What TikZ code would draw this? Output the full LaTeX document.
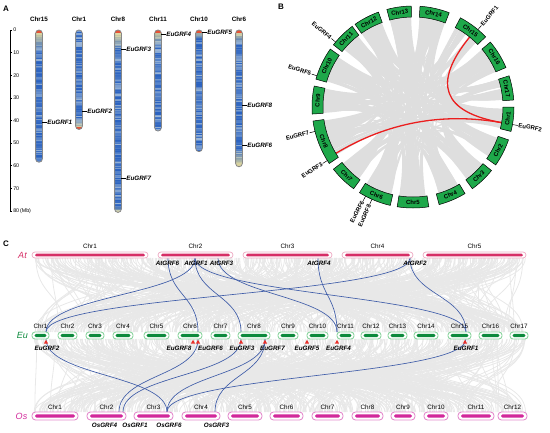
\documentclass[tikz,border=0pt]{standalone}
\usepackage{fontspec}
\setmainfont{Liberation Sans}

\definecolor{myblue}{RGB}{42,98,192}
\definecolor{mylight}{RGB}{185,205,222}
\definecolor{mypale}{RGB}{242,226,150}
\definecolor{capred}{RGB}{232,82,52}
\definecolor{chromgray}{RGB}{135,135,135}
\definecolor{ribbongray}{RGB}{222,222,222}
\definecolor{circgreen}{RGB}{30,168,74}
\definecolor{linkred}{RGB}{235,30,30}
\definecolor{synbggray}{RGB}{232,232,232}
\definecolor{linkblue}{RGB}{62,92,168}
\definecolor{atred}{RGB}{214,46,102}
\definecolor{atpink}{RGB}{238,170,195}
\definecolor{eugreen}{RGB}{12,138,60}
\definecolor{eulight}{RGB}{140,212,160}
\definecolor{osmag}{RGB}{210,40,155}
\definecolor{oslight}{RGB}{228,140,205}
\definecolor{markred}{RGB}{232,48,42}

\tikzset{
  paneltag/.style={font=\fontsize{8}{9}\selectfont\bfseries, inner sep=0pt},
  chrname/.style={font=\fontsize{6.3}{7}\selectfont\bfseries, inner sep=0pt},
  genename/.style={font=\fontsize{6.3}{7}\selectfont\bfseries\itshape, inner sep=0.6pt},
  ticklab/.style={font=\fontsize{5.3}{6}\selectfont, anchor=west, inner sep=0.6pt},
  chromout/.style={draw=chromgray, line width=0.8pt, rounded corners=3.3pt},
  ribbon/.style={fill=ribbongray},
  circchr/.style={fill=circgreen, draw=black, line width=0.5pt},
  circname/.style={font=\fontsize{6}{7}\selectfont\bfseries, inner sep=0pt},
  circgene/.style={font=\fontsize{6}{7}\selectfont\bfseries, inner sep=0.5pt},
  redlink/.style={draw=linkred, line width=1.3pt},
  synbg/.style={draw=synbggray, line width=0.8pt},
  bluelink/.style={draw=linkblue, line width=0.65pt},
  rowname/.style={font=\fontsize{9}{10}\selectfont\itshape, inner sep=0pt},
  cname/.style={font=\fontsize{6.3}{7}\selectfont, inner sep=0pt},
  atout/.style={draw=atpink, fill=white, line width=0.7pt, rounded corners=3pt},
  atin/.style={fill=atred, rounded corners=1.4pt},
  euout/.style={draw=eulight, fill=white, line width=0.9pt, rounded corners=3pt},
  euin/.style={fill=eugreen, rounded corners=1.4pt},
  osout/.style={draw=oslight, fill=white, line width=0.9pt, rounded corners=3.5pt},
  osin/.style={fill=osmag, rounded corners=1.6pt},
}

% chromosome of panel A: x, length (Mb), top fade, bottom fade, top cap, bottom cap
\newcommand{\chromA}[6]{%
  \begin{scope}
    \clip[rounded corners=3.3pt] (#1-3.4,30) rectangle (#1+3.4,30+#2*2.26);
    \foreach \p in {0,0.5,...,#2}{
      \pgfmathsetmacro\v{100-80*rnd^1.6}
      \pgfmathsetmacro\f{100*min(1,(\p+0.3)/max(#3,0.01))*min(1,(#2-\p+0.2)/max(#4,0.01))}
      \fill[myblue!\v!mylight!\f!mypale] (#1-3.4,30+\p*2.26) rectangle (#1+3.4,30+\p*2.26+1.4);
    }
    \ifnum#5=1 \fill[capred] (#1-3.4,30) rectangle (#1+3.4,32.6); \fi
    \ifnum#6=1 \fill[capred] (#1-3.4,30+#2*2.26-2.6) rectangle (#1+3.4,30+#2*2.26); \fi
  \end{scope}
  \draw[chromout] (#1-3.4,30) rectangle (#1+3.4,30+#2*2.26);
}

\begin{document}
\begin{tikzpicture}[x=1pt,y=-1pt]
\useasboundingbox (0,0) rectangle (550,432);
\pgfmathsetseed{11}

% ---------- A ----------
\node[paneltag] (tagA) at (6,9) {A};
\draw[line width=0.6pt] (10,30) -- (10,210.8);
\foreach \t in {0,10,...,70}{
  \draw[line width=0.6pt] (10,30+\t*2.26) -- (12.4,30+\t*2.26) node[ticklab] (tick\t) {\t};
}
\draw[line width=0.6pt] (10,210.8) -- (12.4,210.8) node[ticklab] (tick80) {80\,(Mb)};

\chromA{39}{58.5}{9}{0}{1}{0}
\chromA{79}{44}{0}{5}{0}{1}
\chromA{118}{80.7}{9}{3}{1}{0}
\chromA{158}{44.7}{7}{0}{1}{0}
\chromA{199}{53.8}{4}{0}{1}{0}
\chromA{239}{60.5}{6}{8}{1}{0}

\node[chrname] (ca15) at (39,19) {Chr15};
\node[chrname] (ca1) at (79,19) {Chr1};
\node[chrname] (ca8) at (118,19) {Chr8};
\node[chrname] (ca11) at (158,19) {Chr11};
\node[chrname] (ca10) at (199,19) {Chr10};
\node[chrname] (ca6) at (239,19) {Chr6};

\coordinate (pa1) at (42.4,122.7);
\coordinate (pa2) at (82.4,111);
\coordinate (pa3) at (121.4,49.3);
\coordinate (pa7) at (121.4,178.3);
\coordinate (pa4) at (161.4,34);
\coordinate (pa5) at (202.4,32.7);
\coordinate (pa8) at (242.4,105);
\coordinate (pa6) at (242.4,145);
\node[genename, anchor=west] (ga1) at (46.5,122.7) {EuGRF1};
\node[genename, anchor=west] (ga2) at (86.5,111) {EuGRF2};
\node[genename, anchor=west] (ga3) at (125.5,49.3) {EuGRF3};
\node[genename, anchor=west] (ga7) at (125.5,178.3) {EuGRF7};
\node[genename, anchor=west] (ga4) at (165.5,34) {EuGRF4};
\node[genename, anchor=west] (ga5) at (206.5,32.7) {EuGRF5};
\node[genename, anchor=west] (ga8) at (246.5,105) {EuGRF8};
\node[genename, anchor=west] (ga6) at (246.5,145) {EuGRF6};
\foreach \g in {1,2,3,7,4,5,8,6}{
  \draw[line width=0.6pt] (pa\g) -- (ga\g.west);
}

% ---------- B ----------
\node[paneltag] (tagB) at (281,7) {B};
\begin{scope}[shift={(413,107)}, y=1pt]
  \def\bS{{346,325,306,285,261,238,218,188,168,145,127,110,91,69,44,23,4}}
  \def\bE{{360,341,321,301,279,257,234,214,184,164,142,125,105,86,62,40,18}}
  \foreach \k in {1,...,170}{
    \pgfmathtruncatemacro\i{random(0,16)}
    \pgfmathtruncatemacro\j{mod(\i+random(2,14),17)}
    \pgfmathsetmacro\w{1.2+3*rnd}
    \pgfmathsetmacro\a{\bS[\i]+rnd*(\bE[\i]-\bS[\i]-\w)}
    \pgfmathsetmacro\b{\bS[\j]+rnd*(\bE[\j]-\bS[\j]-\w)}
    \fill[ribbon] (\a:90) arc[start angle=\a, end angle=\a+\w, radius=90]
      .. controls (\a+\w:22) and (\b:22) .. (\b:90) arc[start angle=\b, end angle=\b+\w, radius=90]
      .. controls (\b+\w:22) and (\a:22) .. cycle;
  }
  \coordinate (rb15) at (51:90);
  \coordinate (rb1) at (350:90);
  \coordinate (rb8) at (211:90);
  \draw[redlink] (rb15) .. controls (51:30) and (350:30) .. (rb1);
  \draw[redlink] (rb1) .. controls (350:30) and (211:30) .. (rb8);

  \foreach \n/\s/\e in {1/346/360,2/325/341,3/306/321,4/285/301,5/261/279,6/238/257,
      7/218/234,8/188/214,9/168/184,10/145/164,11/127/142,12/110/125,13/91/105,
      14/69/86,15/44/62,16/23/40,17/4/18}{
    \pgfmathsetmacro\m{(\s+\e)/2}
    \pgfmathsetmacro\r{\m<180 ? \m-90 : \m-270}
    \filldraw[circchr] (\s:90) arc[start angle=\s, end angle=\e, radius=90]
      -- (\e:101) arc[start angle=\e, end angle=\s, radius=101] -- cycle;
    \node[circname, rotate=\r] (cb\n) at (\m:95.5) {Chr\n};
  }

  \foreach \g/\t/\an in {1/50/west,2/350/west,7/194/east,3/212/east,5/162/east,
      4/140/east,6/242/east,8/246/east}{
    \pgfmathsetmacro\r{\t<90 ? \t : (\t>270 ? \t-360 : \t-180)}
    \coordinate (tb\g) at (\t:101);
    \node[circgene, anchor=\an, rotate=\r] (gb\g) at (\t:106.5) {EuGRF\g};
    \draw[line width=0.5pt] (tb\g) -- (gb\g.\an);
  }
\end{scope}

% ---------- C ----------
\node[paneltag] (tagC) at (6,244) {C};
\foreach \k in {1,...,520}{
  \pgfmathsetmacro\xa{34+492*rnd}
  \pgfmathsetmacro\xb{34+492*rnd}
  \draw[synbg] (\xa,258) .. controls (\xa,297) and (\xb,293) .. (\xb,332);
}
\foreach \k in {1,...,520}{
  \pgfmathsetmacro\xa{34+492*rnd}
  \pgfmathsetmacro\xb{34+492*rnd}
  \draw[synbg] (\xa,339) .. controls (\xa,378) and (\xb,373) .. (\xb,412);
}

% gene anchors
\coordinate (at6) at (168,258);
\coordinate (at1) at (195,258);
\coordinate (at3) at (218,258);
\coordinate (at4) at (318,258);
\coordinate (at2) at (410,258);
\coordinate (eut2) at (46,332);
\coordinate (eut6) at (198,332);
\coordinate (eut3) at (241,332);
\coordinate (eut4) at (337,332);
\coordinate (eut1) at (466,332);
\coordinate (eub2) at (46,339);
\coordinate (eub6) at (198,339);
\coordinate (eub3) at (241,339);
\coordinate (eub7) at (265,339);
\coordinate (eub1) at (466,339);
\coordinate (os4) at (119,412);
\coordinate (os1) at (123,412);
\coordinate (os6) at (167,412);
\coordinate (os3) at (215,412);

\draw[bluelink] (at6) .. controls +(0,37) and +(0,-37) .. (eut6);
\draw[bluelink] (at1) .. controls +(0,37) and +(0,-37) .. (eut2);
\draw[bluelink] (at1) .. controls +(0,37) and +(0,-37) .. (eut3);
\draw[bluelink] (at1) .. controls +(0,37) and +(0,-37) .. (eut1);
\draw[bluelink] (at3) .. controls +(0,37) and +(0,-37) .. (eut4);
\draw[bluelink] (at4) .. controls +(0,37) and +(0,-37) .. (eut4);
\draw[bluelink] (at2) .. controls +(0,37) and +(0,-37) .. (eut2);
\draw[bluelink] (at2) .. controls +(0,37) and +(0,-37) .. (eut1);
\draw[bluelink] (eub2) .. controls +(0,37) and +(0,-37) .. (os6);
\draw[bluelink] (eub6) .. controls +(0,37) and +(0,-37) .. (os4);
\draw[bluelink] (eub3) .. controls +(0,37) and +(0,-37) .. (os1);
\draw[bluelink] (eub7) .. controls +(0,37) and +(0,-37) .. (os6);
\draw[bluelink] (eub7) .. controls +(0,37) and +(0,-37) .. (os3);
\draw[bluelink] (eub1) .. controls +(0,37) and +(0,-37) .. (os6);

% rows
\node[rowname, text=atred] (rowAt) at (22.5,255) {At};
\node[rowname, text=eugreen] (rowEu) at (22.5,335.5) {Eu};
\node[rowname, text=osmag] (rowOs) at (21.5,416) {Os};

\foreach \n/\a/\b in {1/32/148,2/158/233,3/243/332,4/342/413,5/423/526}{
  \draw[atout] (\a,252) rectangle (\b,258);
  \fill[atin] (\a+3,253.6) rectangle (\b-3,256.4);
  \node[cname] (atc\n) at ({(\a+\b)/2},246) {Chr\n};
}
\foreach \n/\a/\b in {1/32/49,2/58/77,3/86/104,4/113/133,5/144/169,6/178/202,
    7/211/230,8/238/270,9/278/298,10/307/328,11/337/354,12/361/381,13/388/407,
    14/414/438,15/448/471,16/479/502,17/510/528}{
  \draw[euout] (\a,332) rectangle (\b,339);
  \fill[euin] (\a+2.6,333.8) rectangle (\b-2.6,337.2);
  \node[cname] (euc\n) at ({(\a+\b)/2},326.5) {Chr\n};
}
\foreach \n/\a/\b in {1/32/78,2/87/126,3/134/173,4/182/220,5/228/262,6/270/303,
    7/312/343,8/352/383,9/391/415,10/424/448,11/458/494,12/498/527}{
  \draw[osout] (\a,412) rectangle (\b,420);
  \fill[osin] (\a+3,414.3) rectangle (\b-3,417.7);
  \node[cname] (osc\n) at ({(\a+\b)/2},407.5) {Chr\n};
}

% markers and gene names
\foreach \x in {46,193,198,241,265,307,337,465}{
  \fill[markred] (\x-2.1,343.6) -- (\x+2.1,343.6) -- (\x,339.8) -- cycle;
}
\node[genename] (atg6) at (167.5,263.5) {AtGRF6};
\node[genename] (atg1) at (196,263.5) {AtGRF1};
\node[genename] (atg3) at (221.5,263.5) {AtGRF3};
\node[genename] (atg4) at (319,263.5) {AtGRF4};
\node[genename] (atg2) at (415,263.5) {AtGRF2};
\node[genename] (eug2) at (47,348.5) {EuGRF2};
\node[genename] (eug8) at (179,348.5) {EuGRF8};
\node[genename] (eug6) at (210.5,348.5) {EuGRF6};
\node[genename] (eug3) at (242,348.5) {EuGRF3};
\node[genename] (eug7) at (272.5,348.5) {EuGRF7};
\node[genename] (eug5) at (307,348.5) {EuGRF5};
\node[genename] (eug4) at (338.5,348.5) {EuGRF4};
\node[genename] (eug1) at (466,348.5) {EuGRF1};
\node[genename] (osg4) at (104.5,425) {OsGRF4};
\node[genename] (osg1) at (135,425) {OsGRF1};
\node[genename] (osg6) at (169,425) {OsGRF6};
\node[genename] (osg3) at (216.5,425) {OsGRF3};
\end{tikzpicture}
\end{document}
